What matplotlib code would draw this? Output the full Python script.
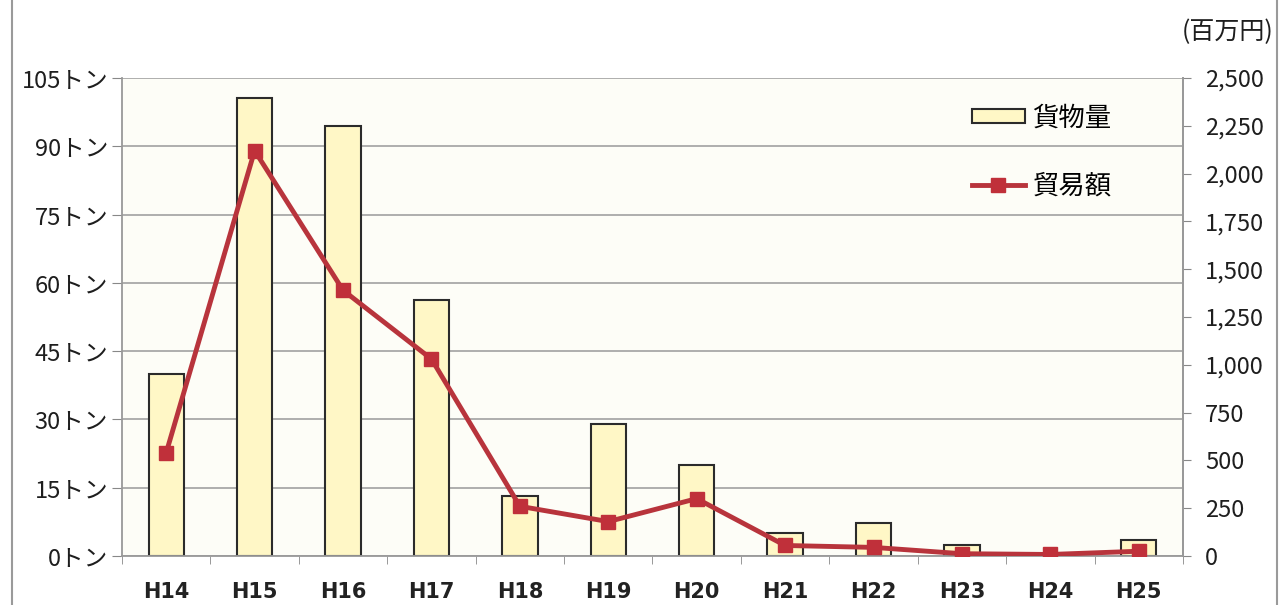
import matplotlib
matplotlib.use("Agg")
import matplotlib.pyplot as plt
from matplotlib.patches import Patch, Rectangle
from matplotlib.lines import Line2D
import numpy as np

plt.rcParams['font.family'] = ['Noto Sans CJK JP', 'DejaVu Sans']

categories = ["H14", "H15", "H16", "H17", "H18", "H19", "H20", "H21", "H22", "H23", "H24", "H25"]
cargo_tons = [40, 100.5, 94.4, 56.2, 13.1, 29.1, 19.9, 5.0, 7.2, 2.4, 0, 3.5]
trade_million_yen = [540, 2120, 1390, 1030, 260, 180, 300, 55, 45, 12, 8, 25]
left_ticks = [0, 15, 30, 45, 60, 75, 90, 105]
right_ticks = [0, 250, 500, 750, 1000, 1250, 1500, 1750, 2000, 2250, 2500]

bar_face = "#FFF7C6"
bar_edge = "#2b2b2b"
line_color = "#B8343C"
marker_color = "#C0303A"
grid_color = "#A8A8A8"

fig = plt.figure(figsize=(12.84, 6.05), dpi=100)
fig.patch.set_facecolor("white")
# outer frame
fig.add_artist(Rectangle((12/1284, -0.01), (1277-12)/1284, 1.02, transform=fig.transFigure,
                         fill=False, edgecolor="#9a9a9a", linewidth=1.5))

ax = fig.add_axes([122/1284, 1-556/605, (1183-122)/1284, (556-78)/605])
ax.set_facecolor("#FDFDF7")
x = np.arange(len(categories))
ax.bar(x, cargo_tons, width=0.4, color=bar_face, edgecolor=bar_edge, linewidth=1.5, zorder=2)
ax.set_xlim(-0.5, len(categories) - 0.5)
ax.set_ylim(0, 105)
ax.set_yticks(left_ticks)
ax.set_yticklabels([f"{v}トン" for v in left_ticks], fontsize=17, color="#1e1e1e")
ax.yaxis.grid(True, color=grid_color, linewidth=1.3, zorder=0)
ax.set_axisbelow(True)
ax.set_xticks(x)
ax.set_xticklabels(categories, fontsize=15, fontweight="bold", color="#222222",
                   family=["DejaVu Sans"])
ax.tick_params(axis="x", length=0, pad=19)
ax.set_xticks(np.arange(-0.5, len(categories), 1.0), minor=True)
ax.tick_params(axis="x", which="minor", length=6, color="#888888", direction="out")
ax.tick_params(axis="y", length=7, color="#888888", pad=3)
ax.spines["top"].set_visible(False)
for side in ["left", "bottom", "right"]:
    ax.spines[side].set_color("#999999")
    ax.spines[side].set_linewidth(1.3)

ax2 = ax.twinx()
ax2.plot(x, trade_million_yen, color=line_color, linewidth=3.5, marker="s", markersize=10,
         markerfacecolor=marker_color, markeredgecolor=marker_color, zorder=3)
ax2.set_ylim(0, 2500)
ax2.set_yticks(right_ticks)
ax2.set_yticklabels([f"{v:,}" for v in right_ticks], fontsize=17, color="#1e1e1e")
ax2.tick_params(axis="y", length=6, color="#888888", pad=10)
for side in ["top", "left", "bottom"]:
    ax2.spines[side].set_visible(False)
ax2.spines["right"].set_color("#999999")
ax2.spines["right"].set_linewidth(1.3)

fig.text(1273/1284, 1-32/605, "(百万円)", ha="right", va="center", fontsize=18, color="#1e1e1e")

handles = [Patch(facecolor=bar_face, edgecolor=bar_edge, linewidth=1.5),
           Line2D([0], [0], color=line_color, linewidth=3.5, marker="s", markersize=10,
                  markerfacecolor=marker_color, markeredgecolor=marker_color)]
leg = fig.legend(handles, ["貨物量", "貿易額"], loc="upper left",
                 bbox_to_anchor=(948/1284, 1-81/605), frameon=False, fontsize=19,
                 labelspacing=1.55, handlelength=2.0, handleheight=0.45, handletextpad=0.3)

fig.savefig("out.png", dpi=100)
